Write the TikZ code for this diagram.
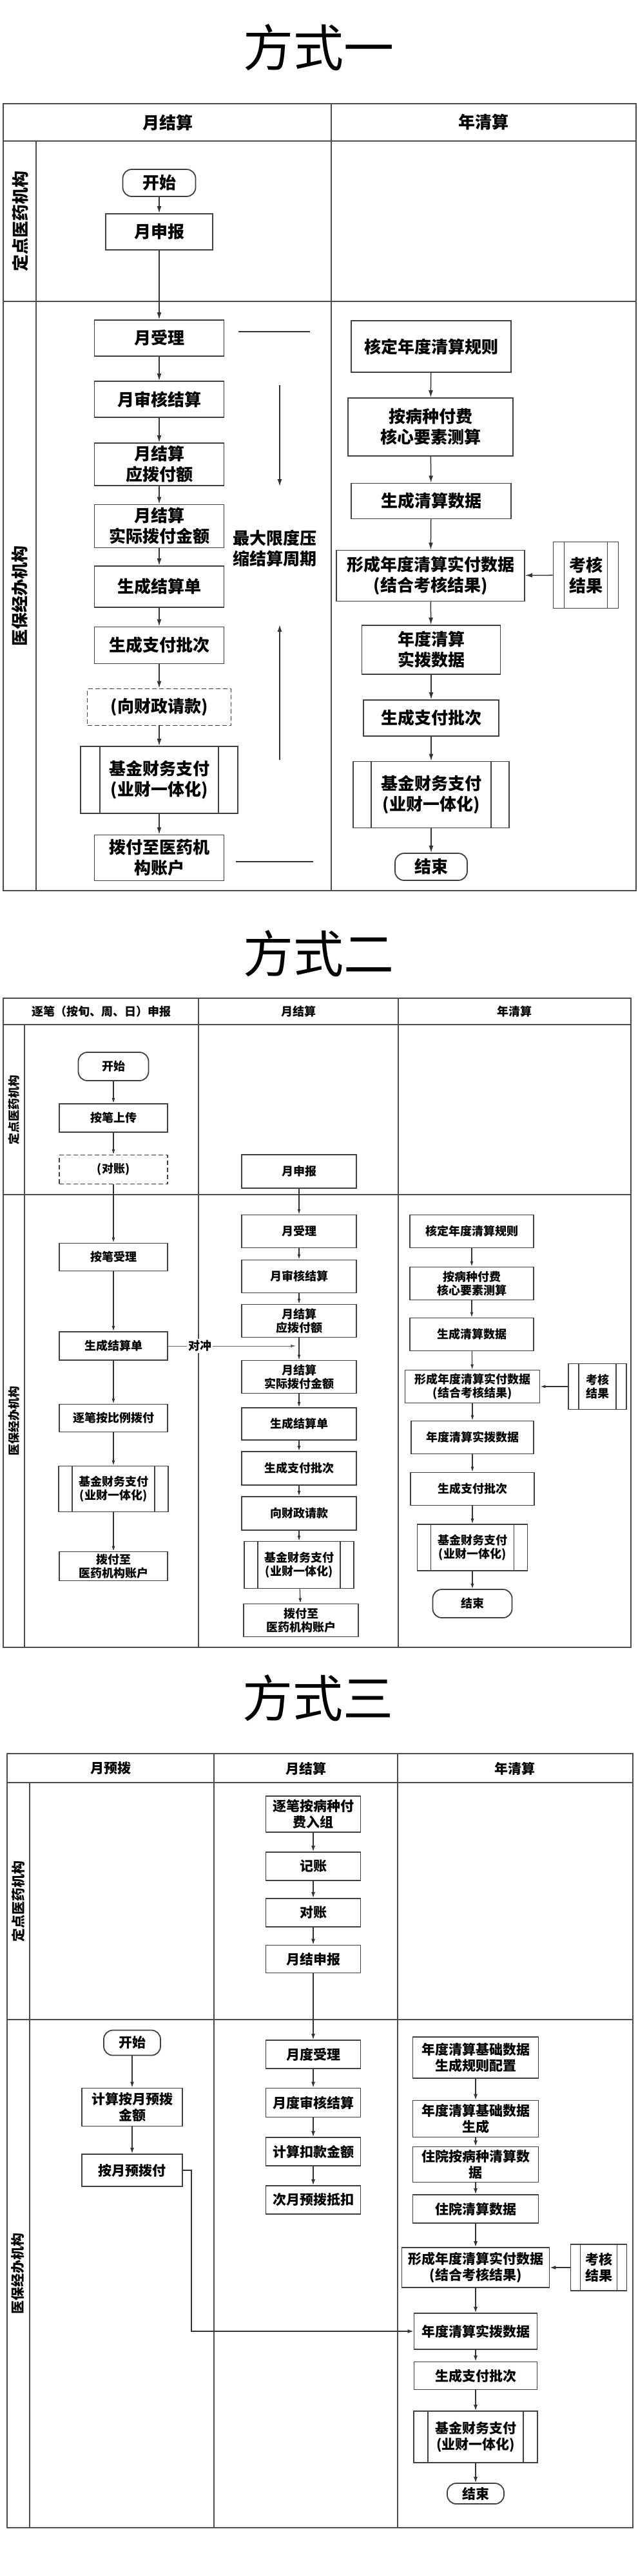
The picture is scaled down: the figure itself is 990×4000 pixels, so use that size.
\documentclass[tikz,border=0pt]{standalone}
\usepackage{fontspec}
\setmainfont{Noto Sans CJK SC}
\usetikzlibrary{arrows.meta}
\tikzset{
  frame/.style={draw=black!70, line width=2.2pt},
  box/.style={draw=black!75, line width=1.8pt, fill=white, align=center, inner sep=0pt},
  term/.style={box, rounded corners=14pt},
  dbox/.style={box, dash pattern=on 7pt off 4pt},
  pp/.style={box, path picture={\draw[draw=black!75,line width=1.4pt]
      ([xshift=#1]path picture bounding box.north west) -- ([xshift=#1]path picture bounding box.south west)
      ([xshift=-#1]path picture bounding box.north east) -- ([xshift=-#1]path picture bounding box.south east);}},
  wh/.style 2 args={minimum width=#1pt, minimum height=#2pt},
  fA/.style={font=\fontsize{26}{32}\selectfont\bfseries},
  fB/.style={font=\fontsize{18}{21}\selectfont\bfseries},
  fC/.style={font=\fontsize{21}{25}\selectfont\bfseries},
  ttl/.style={font=\fontsize{78}{80}\selectfont},
  arrA/.style={draw=black!80, line width=1.5pt, -{Latex[length=11pt,width=7pt]}},
  arrB/.style={draw=black!80, line width=1.2pt, -{Latex[length=8pt,width=5pt]}},
  arrC/.style={draw=black!80, line width=1.3pt, -{Latex[length=9pt,width=6pt]}},
  arrD/.style={draw=black!60, line width=1.0pt, -{Latex[length=8pt,width=5pt]}},
  plain/.style={draw=black!80, line width=1.6pt},
}
\begin{document}
\begin{tikzpicture}[x=1pt,y=-1pt]
\useasboundingbox[fill=white] (0,0) rectangle (990,4000);

%% ================= 方式一 =================
\node[ttl] (t1) at (494,74) {方式一};
\draw[frame] (5,161) rectangle (987,1383);
\draw[frame] (5,219) -- (987,219);
\draw[frame] (514,161) -- (514,1383);
\draw[frame] (56,219) -- (56,1383);
\draw[frame] (5,468) -- (987,468);
\node[fA] (h1a) at (260,190) {月结算};
\node[fA] (h1b) at (750,190) {年清算};
\node[fA,rotate=90] (l1a) at (31,343) {定点医药机构};
\node[fA,rotate=90] (l1b) at (31,925) {医保经办机构};

\node[term,fA,wh={113}{42}] (a1start) at (247,284) {开始};
\node[box,fA,wh={166}{56}] (a1rep) at (247,360) {月申报};
\node[box,fA,wh={201}{56}] (a1acc) at (247,525) {月受理};
\node[box,fA,wh={201}{56}] (a1aud) at (247,620) {月审核结算};
\node[box,fA,wh={201}{66}] (a1due) at (247,721) {月结算\\应拨付额};
\node[box,fA,wh={201}{67}] (a1act) at (247,817) {月结算\\实际拨付金额};
\node[box,fA,wh={201}{64}] (a1bill) at (247,911) {生成结算单};
\node[box,fA,wh={201}{57}] (a1batch) at (247,1002) {生成支付批次};
\node[dbox,fA,wh={223}{57}] (a1req) at (247,1098) {(向财政请款)};
\node[pp=30pt,fA,wh={244}{104}] (a1fund) at (247,1211) {基金财务支付\\(业财一体化)};
\node[box,fA,wh={201}{71}] (a1pay) at (247,1332) {拨付至医药机\\构账户};

\draw[arrA] (a1start) -- (a1rep);
\draw[arrA] (a1rep) -- (a1acc);
\draw[arrA] (a1acc) -- (a1aud);
\draw[arrA] (a1aud) -- (a1due);
\draw[arrA] (a1due) -- (a1act);
\draw[arrA] (a1act) -- (a1bill);
\draw[arrA] (a1bill) -- (a1batch);
\draw[arrA] (a1batch) -- (a1req);
\draw[arrA] (a1req) -- (a1fund);
\draw[arrA] (a1fund) -- (a1pay);

\coordinate (n1a) at (370,515);
\coordinate (n1b) at (481,515);
\draw[plain] (n1a) -- (n1b);
\coordinate (n1c) at (434,598);
\coordinate (n1d) at (434,755);
\draw[arrA] (n1c) -- (n1d);
\node[fA,align=center] (n1t) at (426,852) {最大限度压\\缩结算周期};
\coordinate (n1e) at (434,1180);
\coordinate (n1f) at (434,970);
\draw[arrA] (n1e) -- (n1f);
\coordinate (n1g) at (366,1338);
\coordinate (n1h) at (486,1338);
\draw[plain] (n1g) -- (n1h);

\node[box,fA,wh={248}{80}] (b1rule) at (669,538) {核定年度清算规则};
\node[box,fA,wh={256}{90}] (b1calc) at (668,663) {按病种付费\\核心要素测算};
\node[box,fA,wh={248}{55}] (b1data) at (669,778) {生成清算数据};
\node[box,fA,wh={292}{79}] (b1form) at (668,894) {形成年度清算实付数据\\(结合考核结果)};
\node[pp=17pt,fA,wh={101}{103}] (b1eval) at (909,893) {考核\\结果};
\node[box,fA,wh={215}{76}] (b1actual) at (669,1009) {年度清算\\实拨数据};
\node[box,fA,wh={210}{56}] (b1batch) at (669,1115) {生成支付批次};
\node[pp=28pt,fA,wh={242}{103}] (b1fund) at (669,1234) {基金财务支付\\(业财一体化)};
\node[term,fA,wh={112}{42}] (b1end) at (669,1346) {结束};

\draw[arrA] (b1rule) -- (b1calc);
\draw[arrA] (b1calc) -- (b1data);
\draw[arrA] (b1data) -- (b1form);
\draw[arrA] (b1eval) -- (b1form);
\draw[arrA] (b1form) -- (b1actual);
\draw[arrA] (b1actual) -- (b1batch);
\draw[arrA] (b1batch) -- (b1fund);
\draw[arrA] (b1fund) -- (b1end);

%% ================= 方式二 =================
\node[ttl] (t2) at (494,1481) {方式二};
\draw[frame] (5,1550) rectangle (979,2558);
\draw[frame] (5,1591) -- (979,1591);
\draw[frame] (308,1550) -- (308,2558);
\draw[frame] (618,1550) -- (618,2558);
\draw[frame] (38,1591) -- (38,2558);
\draw[frame] (5,1855) -- (979,1855);
\node[fB] (h2a) at (157,1571) {逐笔（按旬、周、日）申报};
\node[fB] (h2b) at (463,1571) {月结算};
\node[fB] (h2c) at (798,1571) {年清算};
\node[fB,rotate=90] (l2a) at (22,1723) {定点医药机构};
\node[fB,rotate=90] (l2b) at (22,2206) {医保经办机构};

\node[term,fB,wh={109}{44}] (c2start) at (176,1656) {开始};
\node[box,fB,wh={168}{44}] (c2up) at (176,1736) {按笔上传};
\node[dbox,fB,wh={168}{45}] (c2chk) at (176,1816) {(对账)};
\node[box,fB,wh={168}{43}] (c2acc) at (176,1952) {按笔受理};
\node[box,fB,wh={168}{44}] (c2bill) at (176,2090) {生成结算单};
\node[box,fB,wh={168}{43}] (c2prop) at (176,2202) {逐笔按比例拨付};
\node[pp=21pt,fB,wh={170}{71}] (c2fund) at (176,2312) {基金财务支付\\(业财一体化)};
\node[box,fB,wh={168}{45}] (c2pay) at (176,2432) {拨付至\\医药机构账户};

\draw[arrB] (c2start) -- (c2up);
\draw[arrB] (c2up) -- (c2chk);
\draw[arrB] (c2chk) -- (c2acc);
\draw[arrB] (c2acc) -- (c2bill);
\draw[arrB] (c2bill) -- (c2prop);
\draw[arrB] (c2prop) -- (c2fund);
\draw[arrB] (c2fund) -- (c2pay);

\node[box,fB,wh={178}{52}] (d2rep) at (464,1819) {月申报};
\node[box,fB,wh={178}{51}] (d2acc) at (464,1912) {月受理};
\node[box,fB,wh={178}{51}] (d2aud) at (464,1982) {月审核结算};
\node[box,fB,wh={178}{51}] (d2due) at (464,2051) {月结算\\应拨付额};
\node[box,fB,wh={178}{51}] (d2act) at (464,2138) {月结算\\实际拨付金额};
\node[box,fB,wh={178}{50}] (d2bill) at (464,2211) {生成结算单};
\node[box,fB,wh={178}{52}] (d2batch) at (464,2280) {生成支付批次};
\node[box,fB,wh={178}{52}] (d2req) at (464,2350) {向财政请款};
\node[pp=21pt,fB,wh={170}{73}] (d2fund) at (464,2430) {基金财务支付\\(业财一体化)};
\node[box,fB,wh={178}{51}] (d2pay) at (467,2516) {拨付至\\医药机构账户};

\draw[arrB] (d2rep) -- (d2acc);
\draw[arrB] (d2acc) -- (d2aud);
\draw[arrB] (d2aud) -- (d2due);
\draw[arrB] (d2due) -- (d2act);
\draw[arrB] (d2act) -- (d2bill);
\draw[arrB] (d2bill) -- (d2batch);
\draw[arrB] (d2batch) -- (d2req);
\draw[arrB] (d2req) -- (d2fund);
\draw[arrB] (d2fund) -- (d2pay);

\coordinate (dc) at (459,2090);
\draw[arrD] (c2bill) -- node[fill=white,font=\fontsize{18}{21}\selectfont\bfseries,inner sep=2pt,pos=0.25] (dclbl) {对冲} (dc);

\node[box,fB,wh={192}{51}] (e2rule) at (732,1912) {核定年度清算规则};
\node[box,fB,wh={192}{51}] (e2calc) at (732,1993) {按病种付费\\核心要素测算};
\node[box,fB,wh={192}{51}] (e2data) at (732,2072) {生成清算数据};
\node[box,fB,wh={209}{51}] (e2form) at (733,2153) {形成年度清算实付数据\\(结合考核结果)};
\node[pp=16pt,fB,wh={90}{71}] (e2eval) at (927,2153) {考核\\结果};
\node[box,fB,wh={190}{51}] (e2actual) at (733,2232) {年度清算实拨数据};
\node[box,fB,wh={192}{51}] (e2batch) at (733,2312) {生成支付批次};
\node[pp=21pt,fB,wh={171}{72}] (e2fund) at (733,2403) {基金财务支付\\(业财一体化)};
\node[term,fB,wh={123}{44}] (e2end) at (733,2490) {结束};

\draw[arrB] (e2rule) -- (e2calc);
\draw[arrB] (e2calc) -- (e2data);
\draw[arrB] (e2data) -- (e2form);
\draw[arrB] (e2eval) -- (e2form);
\draw[arrB] (e2form) -- (e2actual);
\draw[arrB] (e2actual) -- (e2batch);
\draw[arrB] (e2batch) -- (e2fund);
\draw[arrB] (e2fund) -- (e2end);

%% ================= 方式三 =================
\node[ttl] (t3) at (493,2637) {方式三};
\draw[frame] (11,2723) rectangle (982,3925);
\draw[frame] (11,2768) -- (982,2768);
\draw[frame] (332,2723) -- (332,3925);
\draw[frame] (617,2723) -- (617,3925);
\draw[frame] (46,2768) -- (46,3925);
\draw[frame] (11,3136) -- (982,3136);
\node[fC] (h3a) at (172,2746) {月预拨};
\node[fC] (h3b) at (475,2746) {月结算};
\node[fC] (h3c) at (799,2746) {年清算};
\node[fC,rotate=90] (l3a) at (28,2952) {定点医药机构};
\node[fC,rotate=90] (l3b) at (28,3530) {医保经办机构};

\node[term,fC,wh={88}{39}] (f3start) at (205,3172) {开始};
\node[box,fC,wh={156}{59}] (f3calc) at (205,3272) {计算按月预拨\\金额};
\node[box,fC,wh={156}{50}] (f3pre) at (205,3370) {按月预拨付};
\draw[arrC] (f3start) -- (f3calc);
\draw[arrC] (f3calc) -- (f3pre);

\node[box,fC,wh={147}{56}] (g3grp) at (486,2817) {逐笔按病种付\\费入组};
\node[box,fC,wh={147}{44}] (g3book) at (486,2898) {记账};
\node[box,fC,wh={147}{44}] (g3chk) at (486,2970) {对账};
\node[box,fC,wh={147}{43}] (g3rep) at (486,3042) {月结申报};
\node[box,fC,wh={147}{44}] (g3acc) at (486,3190) {月度受理};
\node[box,fC,wh={147}{45}] (g3aud) at (486,3265) {月度审核结算};
\node[box,fC,wh={147}{44}] (g3ded) at (486,3341) {计算扣款金额};
\node[box,fC,wh={147}{44}] (g3next) at (486,3416) {次月预拨抵扣};
\draw[arrC] (g3grp) -- (g3book);
\draw[arrC] (g3book) -- (g3chk);
\draw[arrC] (g3chk) -- (g3rep);
\draw[arrC] (g3rep) -- (g3acc);
\draw[arrC] (g3acc) -- (g3aud);
\draw[arrC] (g3aud) -- (g3ded);
\draw[arrC] (g3ded) -- (g3next);

\node[box,fC,wh={195}{64}] (h3cfg) at (738,3195) {年度清算基础数据\\生成规则配置};
\node[box,fC,wh={195}{57}] (h3gen) at (738,3290) {年度清算基础数据\\生成};
\node[box,fC,wh={195}{55}] (h3inp) at (738,3361) {住院按病种清算数\\据};
\node[box,fC,wh={195}{44}] (h3data) at (738,3430) {住院清算数据};
\node[box,fC,wh={229}{62}] (h3form) at (738,3521) {形成年度清算实付数据\\(结合考核结果)};
\node[pp=15pt,fC,wh={87}{72}] (h3eval) at (929,3521) {考核\\结果};
\node[box,fC,wh={191}{56}] (h3act) at (738,3620) {年度清算实拨数据};
\node[box,fC,wh={191}{43}] (h3batch) at (738,3689) {生成支付批次};
\node[pp=22pt,fC,wh={192}{80}] (h3fund) at (738,3784) {基金财务支付\\(业财一体化)};
\node[term,fC,wh={88}{32}] (h3end) at (738,3872) {结束};

\draw[arrC] (h3cfg) -- (h3gen);
\draw[arrC] (h3gen) -- (h3inp);
\draw[arrC] (h3inp) -- (h3data);
\draw[arrC] (h3data) -- (h3form);
\draw[arrC] (h3eval) -- (h3form);
\draw[arrC] (h3form) -- (h3act);
\draw[arrC] (h3act) -- (h3batch);
\draw[arrC] (h3batch) -- (h3fund);
\draw[arrC] (h3fund) -- (h3end);
\draw[arrC] (f3pre.east) -- ++(13,0) |- (h3act.west);

\end{tikzpicture}
\end{document}
